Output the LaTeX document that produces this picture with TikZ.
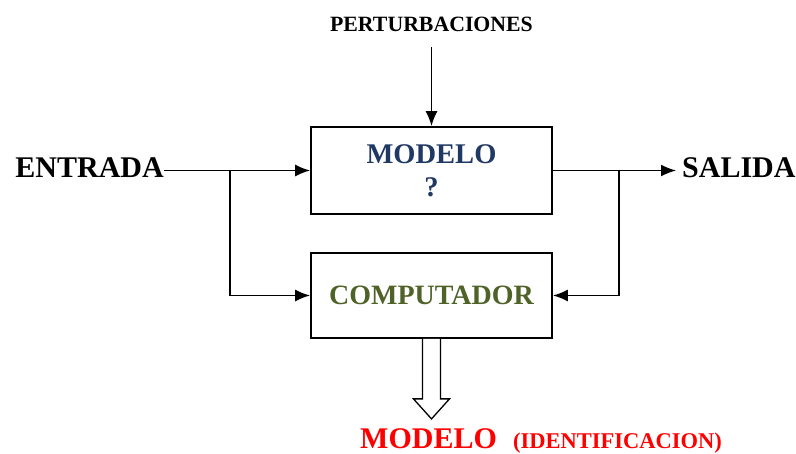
\documentclass[tikz,border=0pt]{standalone}
\usepackage{fontspec}
\setmainfont{Liberation Serif}
\usetikzlibrary{arrows.meta,calc}
\definecolor{modeloblue}{RGB}{31,56,100}
\definecolor{compgreen}{RGB}{79,98,40}
\tikzset{
	box/.style={draw,line width=1.8pt,minimum width=241pt,inner sep=0pt},
	lbl/.style={inner sep=0pt,font=\bfseries\fontsize{30}{36}\selectfont},
	flow/.style={line width=1.5pt,-{Latex[length=15pt,width=12pt]}}
}
\begin{document}
\begin{tikzpicture}[x=1pt,y=-1pt]
	\useasboundingbox (0,0) rectangle (796,454);
	\node[box,minimum height=87pt,align=center,text=modeloblue,
		font=\bfseries\fontsize{28.5}{33}\selectfont] (modelo) at (431.5,170.5) {MODELO\\?};
	\node[box,minimum height=85pt,text=compgreen,
		font=\bfseries\fontsize{28}{32}\selectfont] (comp) at (431.5,295.5) {COMPUTADOR};
	\node[lbl,anchor=base east] (entrada) at (164,178) {ENTRADA};
	\node[lbl,anchor=base west] (salida) at (682,178) {SALIDA};
	\node[inner sep=0pt,font=\bfseries\fontsize{21.8}{26}\selectfont,anchor=base] (pert) at (431.5,32) {PERTURBACIONES};
	\coordinate (splitin) at (230,170.5);
	\coordinate (splitout) at (619,170.5);
	\draw[flow,shorten <=15pt] (pert) -- (modelo);
	\draw[flow] (entrada.east |- modelo.west) -- (modelo.west);
	\draw[flow] (splitin) |- (comp.west);
	\draw[flow,shorten >=6pt] (modelo.east) -- (salida.west |- modelo.east);
	\draw[flow] (splitout) |- (comp.east);
	% flecha hueca hacia el modelo identificado
	\coordinate (tip) at ($(comp.south)+(0,80)$);
	\draw[line width=1.3pt,fill=white] ($(comp.south)+(-9,0)$) -- ++(0,60) -- ++(-9,0) -- (tip)
		-- ($(comp.south)+(18,60)$) -- ++(-9,0) -- ($(comp.south)+(9,0)$);
	\node[lbl,text=red,anchor=base west] (resultado) at (360,449) {MODELO};
	\node[inner sep=0pt,text=red,font=\bfseries\fontsize{22.5}{27}\selectfont,anchor=base west] (ident) at (513,449) {(IDENTIFICACION)};
\end{tikzpicture}
\end{document}
